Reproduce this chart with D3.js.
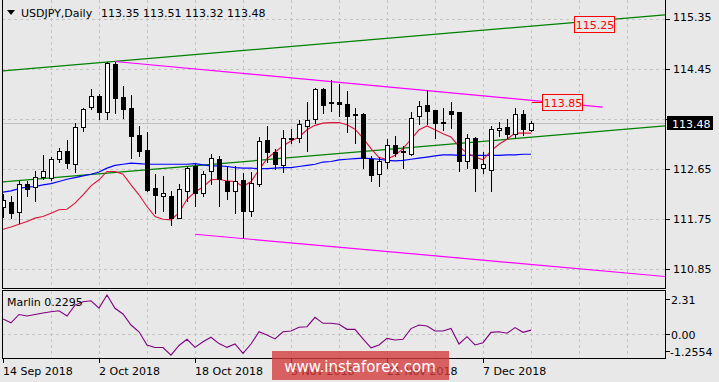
<!DOCTYPE html>
<html><head><meta charset="utf-8">
<script src="https://cdn.jsdelivr.net/npm/d3@7/dist/d3.min.js"></script>
<style>html,body{margin:0;padding:0;background:#e8e8e8;overflow:hidden}svg{display:block}</style>
</head><body><svg id="c" width="719" height="382"></svg>
<script>
// ---------- data ----------
const symbolTitle = "USDJPY,Daily";
const lastOHLC = "113.35 113.51 113.32 113.48";
const dates = ["14 Sep 2018","17 Sep 2018","18 Sep 2018","19 Sep 2018","20 Sep 2018","21 Sep 2018","24 Sep 2018","25 Sep 2018","26 Sep 2018","27 Sep 2018","28 Sep 2018",
"1 Oct 2018","2 Oct 2018","3 Oct 2018","4 Oct 2018","5 Oct 2018","8 Oct 2018","9 Oct 2018","10 Oct 2018","11 Oct 2018","12 Oct 2018","15 Oct 2018","16 Oct 2018","17 Oct 2018","18 Oct 2018","19 Oct 2018","22 Oct 2018","23 Oct 2018","24 Oct 2018","25 Oct 2018","26 Oct 2018","29 Oct 2018","30 Oct 2018","31 Oct 2018",
"1 Nov 2018","2 Nov 2018","5 Nov 2018","6 Nov 2018","7 Nov 2018","8 Nov 2018","9 Nov 2018","12 Nov 2018","13 Nov 2018","14 Nov 2018","15 Nov 2018","16 Nov 2018","19 Nov 2018","20 Nov 2018","21 Nov 2018","22 Nov 2018","23 Nov 2018","26 Nov 2018","27 Nov 2018","28 Nov 2018","29 Nov 2018","30 Nov 2018",
"3 Dec 2018","4 Dec 2018","5 Dec 2018","6 Dec 2018","7 Dec 2018","10 Dec 2018","11 Dec 2018","12 Dec 2018","13 Dec 2018","14 Dec 2018","17 Dec 2018"];
const open  = [111.96,112.05,111.87,112.37,112.32,112.50,112.48,112.82,112.96,112.73,113.40,113.76,113.95,113.67,114.53,113.94,113.74,113.26,112.99,112.30,112.15,112.16,111.77,112.25,112.69,112.21,112.60,112.82,112.43,112.24,112.45,111.88,112.37,113.17,112.95,112.71,113.20,113.20,113.42,113.54,114.08,113.85,113.85,113.81,113.63,113.63,112.82,112.55,112.77,113.08,112.97,112.91,113.59,113.79,113.70,113.49,113.69,113.67,112.78,113.20,112.67,112.62,113.34,113.40,113.28,113.63,113.35];
const high  = [112.20,112.15,112.43,112.43,112.61,112.90,112.86,113.02,113.17,113.48,113.75,114.09,113.99,114.57,114.57,114.14,113.98,113.42,113.31,112.55,112.52,112.25,112.37,112.70,112.74,112.60,112.92,112.87,112.69,112.69,112.57,112.59,113.22,113.41,113.00,113.35,113.36,113.53,113.85,114.10,114.10,114.25,114.17,114.05,113.74,113.65,112.88,112.86,113.18,113.23,113.05,113.67,113.87,114.06,113.70,113.74,113.85,113.67,113.27,113.22,112.95,113.41,113.49,113.54,113.74,113.70,113.51];
const low   = [111.78,111.77,111.68,112.16,112.06,112.46,112.45,112.77,112.66,112.59,113.33,113.72,113.54,113.54,113.66,113.56,112.84,112.88,112.25,111.86,111.89,111.64,111.76,112.06,111.97,112.15,112.37,111.97,112.10,111.85,111.40,111.79,112.33,112.77,112.64,112.59,113.11,113.13,112.96,113.48,113.66,113.68,113.60,113.31,113.11,112.67,112.43,112.33,112.66,112.87,112.67,112.90,113.45,113.45,113.21,113.35,113.39,112.60,112.67,112.24,112.58,112.25,113.23,113.20,113.20,113.25,113.32];
const close = [112.09,111.86,112.37,112.28,112.50,112.60,112.82,112.97,112.75,113.40,113.72,113.95,113.67,114.55,113.92,113.72,113.24,112.96,112.27,112.17,112.21,111.77,112.28,112.66,112.21,112.55,112.84,112.46,112.25,112.42,111.89,112.40,113.14,112.95,112.73,113.20,113.18,113.45,113.52,114.08,113.80,113.83,113.82,113.60,113.62,112.84,112.54,112.78,113.08,112.93,112.95,113.57,113.78,113.68,113.48,113.48,113.64,112.78,113.20,112.67,112.73,113.36,113.38,113.28,113.63,113.37,113.48];
// red moving average
const maRed = [111.56,111.60,111.65,111.70,111.76,111.79,111.85,111.91,111.92,112.03,112.18,112.34,112.45,112.60,112.60,112.55,112.36,112.18,111.97,111.79,111.74,111.73,111.86,112.10,112.23,112.32,112.45,112.46,112.43,112.42,112.33,112.42,112.63,112.83,112.95,113.06,113.15,113.22,113.35,113.43,113.47,113.48,113.48,113.44,113.36,113.20,113.01,112.85,112.82,112.89,113.01,113.18,113.35,113.42,113.35,113.28,113.22,113.05,112.93,112.86,112.81,112.97,113.09,113.18,113.29,113.29,113.29];
// blue moving average
const maBlue = [112.23,112.25,112.29,112.32,112.33,112.36,112.38,112.42,112.46,112.49,112.52,112.55,112.59,112.66,112.71,112.73,112.75,112.74,112.73,112.73,112.73,112.73,112.73,112.73,112.74,112.72,112.70,112.70,112.69,112.67,112.66,112.66,112.65,112.65,112.66,112.67,112.67,112.69,112.71,112.73,112.77,112.78,112.81,112.82,112.83,112.84,112.83,112.82,112.80,112.79,112.80,112.82,112.84,112.86,112.88,112.90,112.90,112.89,112.89,112.89,112.89,112.89,112.89,112.90,112.90,112.91,112.91];
// Marlin oscillator
const marlin = [0.82,0.62,1.06,0.98,1.06,1.14,1.21,1.26,0.98,1.56,1.74,1.79,1.40,2.10,1.39,1.09,0.50,0.14,-0.56,-0.70,-0.70,-1.10,-0.59,-0.26,-0.69,-0.39,-0.15,-0.49,-0.69,-0.51,-1.01,-0.51,0.14,-0.03,-0.24,0.14,0.18,0.38,0.41,0.91,0.59,0.59,0.54,0.27,0.27,-0.24,-0.71,-0.56,-0.21,-0.30,-0.26,0.31,0.50,0.45,0.18,0.18,0.32,-0.51,-0.12,-0.56,-0.44,0.11,0.14,0.06,0.36,0.11,0.2295];
const marlinName = "Marlin";
const priceTicks = [115.35,114.45,113.55,112.65,111.75,110.85];
const marlinTicks = [2.31,0.00,-1.2554];
const dateTickIdx = [0,12,24,36,48,60];
const lastPrice = 113.48;
// trend lines: [barIndex, price]
const greenUpper = [[-0.125,114.41],[82.75,115.42]];
const greenLower = [[-0.125,112.41],[82.75,113.42]];
const magentaUpper = [[14,114.58],[74.96,113.76]];
const magentaLower = [[24,111.47],[82.75,110.71]];
const levelLabels = [{text:"115.25", price:115.25, at:71.4},{text:"113.85", price:113.85, at:67.4}];
const watermark = "www.instaforex.com";

// ---------- drawing ----------
const svg = d3.select("#c");
const BG = "#e8e8e8", GRID = "#c4c4c4";
const FONT = "'DejaVu Sans', sans-serif";
const L = 2, R = 665, MT = 0, MB = 288, IT = 291, IB = 358;

svg.append("rect").attr("width",719).attr("height",382).attr("fill",BG);

const x = d3.scaleLinear().domain([-0.125, 82.75]).range([L, R]);
const y = d3.scaleLinear().domain([110.85, 114.45]).range([268.7, 68.7]);
const yi = d3.scaleLinear().domain([-1.2554, 2.31]).range([IB, IT]);

const defs = svg.append("defs");
defs.append("clipPath").attr("id","cm").append("rect").attr("x",L+1).attr("y",MT).attr("width",R-L-1).attr("height",MB-MT);
defs.append("clipPath").attr("id","ci").append("rect").attr("x",L+1).attr("y",IT+1).attr("width",R-L-1).attr("height",IB-IT-1);

const px = v => Math.round(v) + 0.5;

// grid main
const gm = svg.append("g").attr("clip-path","url(#cm)");
const vgrid = d3.range(6, 83, 6);
gm.selectAll(".hg").data(priceTicks).join("line")
  .attr("x1",L).attr("x2",R).attr("y1",d=>px(y(d))).attr("y2",d=>px(y(d)))
  .attr("stroke",GRID).attr("stroke-dasharray","3,3");
gm.selectAll(".vg").data(vgrid).join("line")
  .attr("x1",d=>px(x(d))).attr("x2",d=>px(x(d))).attr("y1",MT).attr("y2",MB)
  .attr("stroke",GRID).attr("stroke-dasharray","3,3");
// bid line
gm.append("line").attr("x1",L).attr("x2",R).attr("y1",px(y(lastPrice))).attr("y2",px(y(lastPrice)))
  .attr("stroke","#c0c0c0");

// trend lines
function tline(pts, color){
  gm.append("line").attr("x1",x(pts[0][0])).attr("y1",y(pts[0][1]))
    .attr("x2",x(pts[1][0])).attr("y2",y(pts[1][1]))
    .attr("stroke",color).attr("stroke-width",1.2);
}
tline(greenUpper,"#008000");
tline(greenLower,"#008000");
tline(magentaUpper,"#ff00ff");
tline(magentaLower,"#ff00ff");

// moving averages
const idx = d3.range(open.length);
const lineGen = arr => d3.line().x(i=>x(i)).y(i=>y(arr[i]))(idx);
gm.append("path").attr("d",lineGen(maBlue)).attr("fill","none").attr("stroke","#0000ff").attr("stroke-width",1.2);
gm.append("path").attr("d",lineGen(maRed)).attr("fill","none").attr("stroke","#dc143c").attr("stroke-width",1.1);

// candles
const cg = gm.append("g").attr("shape-rendering","crispEdges");
idx.forEach(i=>{
  const cx = Math.round(x(i));
  cg.append("line").attr("x1",cx+0.5).attr("x2",cx+0.5)
    .attr("y1",Math.round(y(high[i]))).attr("y2",Math.round(y(low[i]))+1)
    .attr("stroke","#000");
  const top = Math.round(y(Math.max(open[i],close[i])));
  const bot = Math.round(y(Math.min(open[i],close[i])));
  const up = close[i] >= open[i];
  cg.append("rect").attr("x",cx-1.5).attr("width",4)
    .attr("y",top+0.5).attr("height",Math.max(bot-top,1))
    .attr("fill",up?"#fff":"#000").attr("stroke","#000");
});

// level labels
levelLabels.forEach(d=>{
  const bx = Math.round(x(d.at)), by = Math.round(y(d.price));
  if (d.text==="113.85"){
    gm.append("line").attr("x1",x(66)+1).attr("x2",bx).attr("y1",by+0.5).attr("y2",by+0.5).attr("stroke","#ff0000");
  }
  gm.append("rect").attr("x",bx+0.5).attr("y",by-7.5).attr("width",40).attr("height",16)
    .attr("fill",BG).attr("stroke","#ff0000").attr("shape-rendering","crispEdges");
  gm.append("text").attr("x",bx+21).attr("y",by+4.5).attr("text-anchor","middle")
    .attr("font-family",FONT).attr("font-size",11).attr("fill","#ff0000").text(d.text);
});

// indicator panel
const gi = svg.append("g").attr("clip-path","url(#ci)");
gi.append("line").attr("x1",L).attr("x2",R).attr("y1",px(yi(0))).attr("y2",px(yi(0)))
  .attr("stroke",GRID).attr("stroke-dasharray","3,3");
gi.selectAll(".vg").data(vgrid).join("line")
  .attr("x1",d=>px(x(d))).attr("x2",d=>px(x(d))).attr("y1",IT).attr("y2",IB)
  .attr("stroke",GRID).attr("stroke-dasharray","3,3");
gi.append("path").attr("d",d3.line().x(i=>x(i)).y(i=>yi(marlin[i]))(idx))
  .attr("fill","none").attr("stroke","#800080").attr("stroke-width",1.1);

// borders
const bd = svg.append("g").attr("shape-rendering","crispEdges").attr("stroke","#000").attr("fill","none");
bd.append("line").attr("x1",L+0.5).attr("x2",L+0.5).attr("y1",MT).attr("y2",MB+1);
bd.append("line").attr("x1",R+0.5).attr("x2",R+0.5).attr("y1",MT).attr("y2",MB+1);
bd.append("line").attr("x1",L).attr("x2",R+1).attr("y1",MB+0.5).attr("y2",MB+0.5);
bd.append("rect").attr("x",L+0.5).attr("y",IT-0.5).attr("width",R-L).attr("height",IB-IT+1);

// price axis (the label hidden by the last-price tag is left out)
const ay = svg.append("g").attr("transform",`translate(${R+1},0)`)
  .call(d3.axisRight(y).tickValues(priceTicks)
    .tickFormat(d => Math.abs(y(d) - y(lastPrice)) < 10 ? "" : d3.format(".2f")(d))
    .tickSize(4).tickPadding(3));
ay.select(".domain").remove();
ay.selectAll("line").attr("stroke","#000").attr("shape-rendering","crispEdges");
ay.selectAll("text").attr("font-family",FONT).attr("font-size",11).attr("fill","#000");
ay.selectAll(".tick").filter(d=>d===priceTicks[0]).select("text").attr("dy","0.2em");

// last price tag
const ly = Math.round(y(lastPrice));
svg.append("rect").attr("x",667).attr("y",ly-7).attr("width",46).attr("height",14).attr("fill","#000");
svg.append("text").attr("x",672).attr("y",ly+4.5).attr("font-family",FONT).attr("font-size",11).attr("fill","#fff").text(d3.format(".2f")(lastPrice));

// marlin axis
const mpos = v => Math.min(Math.max(yi(v), 299), 351);
const am = svg.append("g");
marlinTicks.forEach(v=>{
  const yy = Math.round(mpos(v))+0.5;
  am.append("line").attr("x1",R+1).attr("x2",R+5).attr("y1",yy).attr("y2",yy).attr("stroke","#000").attr("shape-rendering","crispEdges");
  am.append("text").attr("x",v<0?670:671).attr("y",yy+4).attr("font-family",FONT).attr("font-size",11).attr("fill","#000")
    .text(v===0?"0.00":(Math.abs(v)<2?d3.format(".4f")(v):d3.format(".2f")(v)).replace("\u2212","-"));
});

// date axis
const ax = svg.append("g").attr("transform",`translate(0,${IB+1})`)
  .call(d3.axisBottom(x).tickValues(dateTickIdx).tickFormat(i=>dates[i]).tickSize(4).tickPadding(2));
ax.select(".domain").remove();
ax.selectAll(".tick").attr("transform",d=>`translate(${Math.round(x(d))+0.5},0)`);
ax.selectAll("line").attr("stroke","#000").attr("shape-rendering","crispEdges");
ax.selectAll("text").attr("font-family",FONT).attr("font-size",11).attr("fill","#000")
  .attr("text-anchor","start").attr("x",-0.5).attr("dy","0.9em");

// titles
svg.append("path").attr("d","M7,10 L15,10 L11,15 Z").attr("fill","#000");
svg.append("text").attr("x",21).attr("y",17).attr("font-family",FONT).attr("font-size",11).attr("fill","#000").text(symbolTitle);
svg.append("text").attr("x",101).attr("y",17).attr("font-family",FONT).attr("font-size",11).attr("fill","#000").text(lastOHLC);
svg.append("text").attr("x",7).attr("y",306).attr("font-family",FONT).attr("font-size",11).attr("fill","#000")
  .text(marlinName+" "+marlin[marlin.length-1]);

// watermark
svg.append("rect").attr("x",272).attr("y",351).attr("width",177).attr("height",29).attr("fill","#d43a3a").attr("opacity",0.78);
svg.append("text").attr("x",360).attr("y",372).attr("text-anchor","middle").attr("font-family",FONT)
  .attr("font-size",15).attr("fill","#fff").text(watermark);
</script></body></html>
